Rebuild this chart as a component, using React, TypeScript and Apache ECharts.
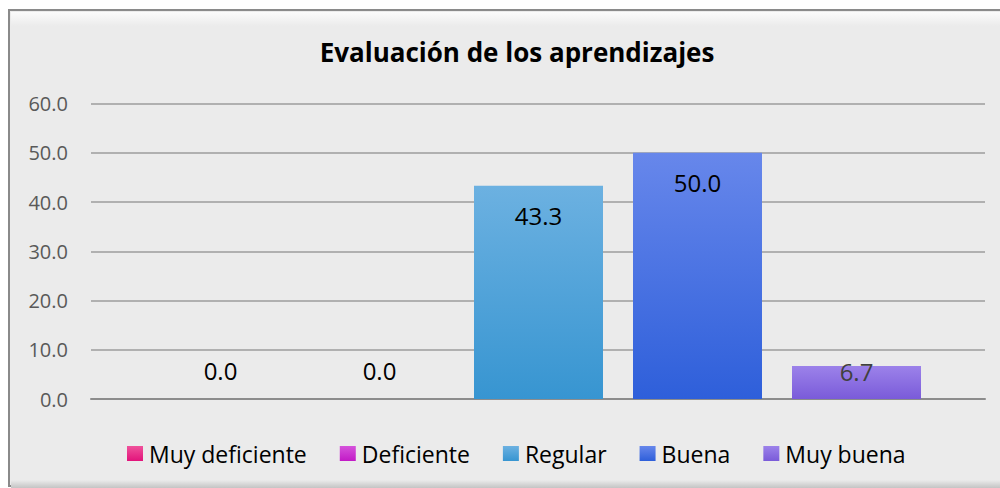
import React, { useEffect, useRef } from "react";
import * as echarts from "echarts";

const categories = ["Muy deficiente", "Deficiente", "Regular", "Buena", "Muy buena"];
const values = [0.0, 0.0, 43.3, 50.0, 6.7];
const topColors = ["#ef529b", "#d553db", "#6cb1e1", "#6787eb", "#9c82ea"];
const bottomColors = ["#e2137b", "#c21ac6", "#3795d1", "#2e5fda", "#7a5bd9"];
const titleText = "Evaluación de los aprendizajes";
const FONT = "'Open Sans', 'Noto Sans', sans-serif";

export default function App() {
  const ref = useRef<HTMLDivElement>(null);
  useEffect(() => {
    const chart = echarts.init(ref.current!, null, { renderer: "svg" });
    const series = categories.map((name, i) => {
      const v = values[i];
      let label: any;
      if (v === 0) {
        label = { show: true, position: "top", distance: 17, color: "#000" };
      } else if (v < 10) {
        label = { show: true, position: "insideBottom", distance: 16, color: "#404040" };
      } else {
        label = { show: true, position: "insideTop", distance: 18, color: "#000" };
      }
      return {
        name,
        type: "bar",
        stack: "all",
        xAxisIndex: 1,
        yAxisIndex: 1,
        barWidth: 129,
        data: categories.map((_, j) => (j === i ? v : "-")),
        itemStyle: {
          color: new echarts.graphic.LinearGradient(0, 0, 0, 1, [
            { offset: 0, color: topColors[i] },
            { offset: 1, color: bottomColors[i] },
          ]),
        },
        label: {
          ...label,
          fontFamily: FONT,
          fontSize: 24,
          formatter: (p: any) => Number(p.value).toFixed(1),
        },
      };
    });
    chart.setOption({
      animation: false,
      backgroundColor: "#ffffff",
      textStyle: { fontFamily: FONT },
      graphic: [
        {
          type: "rect",
          z: -10,
          shape: { x: 9, y: 10, width: 1000, height: 476 },
          style: { fill: "#ebebeb", stroke: "#8a8a8a", lineWidth: 2 },
        },
        {
          type: "rect",
          z: -9,
          shape: { x: 11, y: 12, width: 990, height: 14 },
          style: {
            fill: new echarts.graphic.LinearGradient(0, 0, 0, 1, [
              { offset: 0, color: "#fbfbfb" },
              { offset: 1, color: "#ebebeb" },
            ]),
          },
        },
        {
          type: "rect",
          z: -9,
          shape: { x: 11, y: 480, width: 990, height: 8 },
          style: {
            fill: new echarts.graphic.LinearGradient(0, 0, 0, 1, [
              { offset: 0, color: "#ebebeb" },
              { offset: 1, color: "#c4c4c4" },
            ]),
          },
        },
      ],
      title: {
        text: titleText,
        left: 512,
        textAlign: "center",
        top: 34,
        textStyle: { fontFamily: FONT, fontSize: 26, fontWeight: "bold", color: "#000" },
      },
      legend: {
        data: categories,
        left: 122,
        top: 437,
        icon: "rect",
        itemWidth: 16,
        itemHeight: 15,
        itemGap: 33,
        textStyle: { fontFamily: FONT, fontSize: 23, color: "#000", padding: [0, 0, 0, 1] },
      },
      grid: [
        { left: 91, right: 15, top: 103.5, bottom: 89, containLabel: false },
        { left: 141, right: 64, top: 103.5, bottom: 89, containLabel: false },
      ],
      xAxis: [
        {
          type: "category",
          gridIndex: 0,
          data: categories,
          axisLine: { show: true, lineStyle: { color: "#8c8c8c", width: 2 } },
          axisTick: { show: false },
          axisLabel: { show: false },
        },
        {
          type: "category",
          gridIndex: 1,
          data: categories,
          axisLine: { show: false },
          axisTick: { show: false },
          axisLabel: { show: false },
        },
      ],
      yAxis: [
        {
          type: "value",
          gridIndex: 0,
          min: 0,
          max: 60,
          interval: 10,
          axisLine: { show: false },
          axisTick: { show: false },
          axisLabel: {
            margin: 23,
            fontFamily: FONT,
            fontSize: 20,
            color: "#595959",
            formatter: (v: number) => v.toFixed(1),
          },
          splitLine: { lineStyle: { color: "#b0b0b0", width: 2 } },
        },
        {
          type: "value",
          gridIndex: 1,
          min: 0,
          max: 60,
          interval: 10,
          axisLine: { show: false },
          axisTick: { show: false },
          axisLabel: { show: false },
          splitLine: { show: false },
        },
      ],
      series,
    });
    return () => chart.dispose();
  }, []);
  return (
    <div
      ref={ref}
      style={{ position: "absolute", left: 0, top: 0, width: 1000, height: 488 }}
    />
  );
}
